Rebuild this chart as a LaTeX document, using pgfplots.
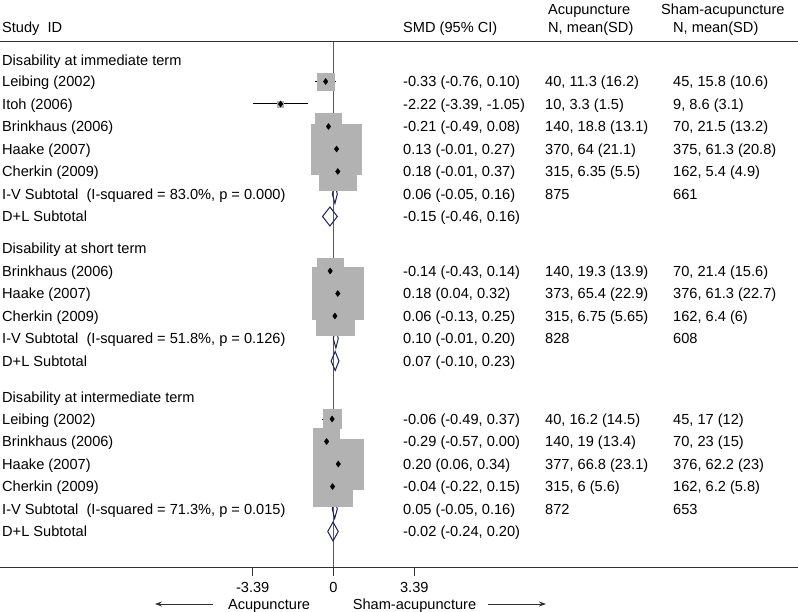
\documentclass[border=0pt]{standalone}
\usepackage{fontspec}
\setmainfont{Liberation Sans}
\usepackage{pgfplots}
\usepackage{pgfplotstable}
\pgfplotsset{compat=1.18}
\usetikzlibrary{arrows.meta}
\definecolor{boxgray}{RGB}{178,178,178}
\definecolor{navy}{RGB}{30,36,90}
\definecolor{rulec}{RGB}{50,50,50}
\definecolor{zeroc}{RGB}{90,90,90}

% y = row position (px from top), est/lo/hi = SMD and 95% CI, hs = half side of weight box
\pgfplotstableread{
y est lo hi hs
81.5 -0.33 -0.76 0.10 8.5
104 -2.22 -3.39 -1.05 3
126.5 -0.21 -0.49 0.08 13
149 0.13 -0.01 0.27 25
171.5 0.18 -0.01 0.37 18.8
271 -0.14 -0.43 0.14 13
293.5 0.18 0.04 0.32 26
316 0.06 -0.13 0.25 19.3
419 -0.06 -0.49 0.37 9.4
441.5 -0.29 -0.57 0.00 13
464 0.20 0.06 0.34 25.3
486.5 -0.04 -0.22 0.15 19.5
}\studies

\newcommand{\T}[3]{\node[anchor=base west,inner sep=0pt] at (axis cs:{(#1-333.5)/23.83},{#2+5.2}) {#3};}
\newcommand{\C}[3]{\node[anchor=base,inner sep=0pt] at (axis cs:{(#1-333.5)/23.83},{#2+5.2}) {#3};}

\begin{document}
\begin{tikzpicture}[font=\fontsize{14.6bp}{17bp}\selectfont]
\begin{axis}[
  at={(0,0)}, anchor=south west,
  width=798bp, height=612bp, scale only axis,
  xmin=-13.995, xmax=19.4922, ymin=0, ymax=612, y dir=reverse,
  hide axis, clip=false]

% rules
\draw[rulec, line width=1bp] (axis cs:{(0-333.5)/23.83},42) -- (axis cs:{(798-333.5)/23.83},42);
\draw[rulec, line width=1bp] (axis cs:{(0-333.5)/23.83},567) -- (axis cs:{(798-333.5)/23.83},567);
\draw[zeroc, line width=1bp] (axis cs:0,42) -- (axis cs:0,567);

% weight boxes
\addplot[scatter, only marks, mark=square*,
  scatter/use mapped color={draw=boxgray, fill=boxgray},
  visualization depends on={\thisrow{hs} \as \halfside},
  scatter/@pre marker code/.append style={/tikz/mark size=\halfside}]
  table[x=est, y=y] {\studies};

% point estimates with CI
\addplot[black, only marks, mark=diamond*, mark size=3,
  error bars/.cd, x dir=both, x explicit, error mark=none,
  error bar style={black, line width=1bp}]
  table[x=est, y=y,
        x error minus expr=\thisrow{est}-\thisrow{lo},
        x error plus expr=\thisrow{hi}-\thisrow{est}] {\studies};

% pooled diamonds
\addplot[navy, line width=1bp, mark=none] coordinates {(-0.05,194) (0.06,184.5) (0.16,194) (0.06,203.5)} --cycle;
\addplot[navy, line width=1bp, mark=none] coordinates {(-0.46,216.5) (-0.15,207) (0.16,216.5) (-0.15,226)} --cycle;
\addplot[navy, line width=1bp, mark=none] coordinates {(-0.01,338.5) (0.10,329) (0.20,338.5) (0.10,348)} --cycle;
\addplot[navy, line width=1bp, mark=none] coordinates {(-0.10,361) (0.07,351.5) (0.23,361) (0.07,370.5)} --cycle;
\addplot[navy, line width=1bp, mark=none] coordinates {(-0.05,509) (0.05,499.5) (0.16,509) (0.05,518.5)} --cycle;
\addplot[navy, line width=1bp, mark=none] coordinates {(-0.24,531.5) (-0.02,522) (0.20,531.5) (-0.02,541)} --cycle;

% x ticks
\draw[rulec, line width=1bp] (axis cs:-3.39,567) -- (axis cs:-3.39,576);
\draw[rulec, line width=1bp] (axis cs:0,567) -- (axis cs:0,576);
\draw[rulec, line width=1bp] (axis cs:3.39,567) -- (axis cs:3.39,576);
\node[anchor=base,inner sep=0pt] at (axis cs:-3.39,592.2) {-3.39};
\node[anchor=base,inner sep=0pt] at (axis cs:0,592.2) {0};
\node[anchor=base,inner sep=0pt] at (axis cs:3.39,592.2) {3.39};

% direction labels
\C{269}{604}{Acupuncture}
\C{414.5}{604}{Sham-acupuncture}
\draw[rulec, line width=0.8bp, -{Stealth[length=7bp,width=5bp]}] (axis cs:{(213-333.5)/23.83},604) -- (axis cs:{(155-333.5)/23.83},604);
\draw[rulec, line width=0.8bp, -{Stealth[length=7bp,width=5bp]}] (axis cs:{(488-333.5)/23.83},604) -- (axis cs:{(546-333.5)/23.83},604);

% headers
\T{2}{27}{Study\ \ ID}
\T{403}{27}{SMD (95\% CI)}
\T{548}{9}{Acupuncture}
\T{548}{27}{N, mean(SD)}
\T{661}{9}{Sham-acupuncture}
\T{673}{27}{N, mean(SD)}

% left column
\T{2}{60}{Disability at immediate term}
\T{2}{81.5}{Leibing (2002)}
\T{2}{104}{Itoh (2006)}
\T{2}{126.5}{Brinkhaus (2006)}
\T{2}{149}{Haake (2007)}
\T{2}{171.5}{Cherkin (2009)}
\T{2}{194}{I-V Subtotal\ \ (I-squared = 83.0\%, p = 0.000)}
\T{2}{216.5}{D+L Subtotal}
\T{2}{248.5}{Disability at short term}
\T{2}{271}{Brinkhaus (2006)}
\T{2}{293.5}{Haake (2007)}
\T{2}{316}{Cherkin (2009)}
\T{2}{338.5}{I-V Subtotal\ \ (I-squared = 51.8\%, p = 0.126)}
\T{2}{361}{D+L Subtotal}
\T{2}{397}{Disability at intermediate term}
\T{2}{419}{Leibing (2002)}
\T{2}{441.5}{Brinkhaus (2006)}
\T{2}{464}{Haake (2007)}
\T{2}{486.5}{Cherkin (2009)}
\T{2}{509}{I-V Subtotal\ \ (I-squared = 71.3\%, p = 0.015)}
\T{2}{531.5}{D+L Subtotal}

% SMD column
\T{403}{81.5}{-0.33 (-0.76, 0.10)}
\T{403}{104}{-2.22 (-3.39, -1.05)}
\T{403}{126.5}{-0.21 (-0.49, 0.08)}
\T{403}{149}{0.13 (-0.01, 0.27)}
\T{403}{171.5}{0.18 (-0.01, 0.37)}
\T{403}{194}{0.06 (-0.05, 0.16)}
\T{403}{216.5}{-0.15 (-0.46, 0.16)}
\T{403}{271}{-0.14 (-0.43, 0.14)}
\T{403}{293.5}{0.18 (0.04, 0.32)}
\T{403}{316}{0.06 (-0.13, 0.25)}
\T{403}{338.5}{0.10 (-0.01, 0.20)}
\T{403}{361}{0.07 (-0.10, 0.23)}
\T{403}{419}{-0.06 (-0.49, 0.37)}
\T{403}{441.5}{-0.29 (-0.57, 0.00)}
\T{403}{464}{0.20 (0.06, 0.34)}
\T{403}{486.5}{-0.04 (-0.22, 0.15)}
\T{403}{509}{0.05 (-0.05, 0.16)}
\T{403}{531.5}{-0.02 (-0.24, 0.20)}

% Acupuncture column
\T{545}{81.5}{40, 11.3 (16.2)}
\T{545}{104}{10, 3.3 (1.5)}
\T{545}{126.5}{140, 18.8 (13.1)}
\T{545}{149}{370, 64 (21.1)}
\T{545}{171.5}{315, 6.35 (5.5)}
\T{545}{194}{875}
\T{545}{271}{140, 19.3 (13.9)}
\T{545}{293.5}{373, 65.4 (22.9)}
\T{545}{316}{315, 6.75 (5.65)}
\T{545}{338.5}{828}
\T{545}{419}{40, 16.2 (14.5)}
\T{545}{441.5}{140, 19 (13.4)}
\T{545}{464}{377, 66.8 (23.1)}
\T{545}{486.5}{315, 6 (5.6)}
\T{545}{509}{872}

% Sham column
\T{673}{81.5}{45, 15.8 (10.6)}
\T{673}{104}{9, 8.6 (3.1)}
\T{673}{126.5}{70, 21.5 (13.2)}
\T{673}{149}{375, 61.3 (20.8)}
\T{673}{171.5}{162, 5.4 (4.9)}
\T{673}{194}{661}
\T{673}{271}{70, 21.4 (15.6)}
\T{673}{293.5}{376, 61.3 (22.7)}
\T{673}{316}{162, 6.4 (6)}
\T{673}{338.5}{608}
\T{673}{419}{45, 17 (12)}
\T{673}{441.5}{70, 23 (15)}
\T{673}{464}{376, 62.2 (23)}
\T{673}{486.5}{162, 6.2 (5.8)}
\T{673}{509}{653}
\end{axis}
\pgfresetboundingbox
\path (current axis.south west) rectangle (current axis.north east);
\end{tikzpicture}
\end{document}
